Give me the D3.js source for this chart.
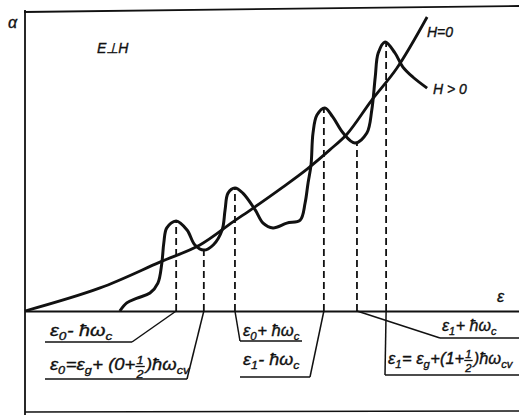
<!DOCTYPE html>
<html>
<head>
<meta charset="utf-8">
<script src="https://cdn.jsdelivr.net/npm/d3@7"></script>
<style>
  body { margin: 0; background: #fff; }
  text { font-family: "Liberation Sans", Arial, sans-serif; font-style: italic; fill: #111;
         stroke: #111; stroke-width: 0.35; }
</style>
</head>
<body>
<div id="chart"></div>
<script>
// absorption without field (H=0), photon energy vs alpha, arbitrary units
const energyH0 = [0, 15.2, 27.3, 35.4, 42.1, 46.2, 52.2, 57.1, 61.7, 65.2, 70.2, 75.3, 81.4];
const alphaH0  = [0, 7.7, 16.3, 22, 29.7, 34.3, 41.3, 47.3, 53.7, 59, 70.3, 81, 98];

// absorption in field (H>0), oscillating
const energyH = [19.2, 20.6, 22.7, 25.3, 26.9, 27.7, 28.1, 28.7, 30.6, 32.8, 34.4, 36.2, 38.1, 39.9,
  40.5, 41.1, 42.5, 44.1, 46.6, 48.2, 50.2, 53.0, 55.7, 56.7, 57.3, 57.9, 58.3, 59.1, 60.7, 62.3,
  64.4, 66.8, 69.2, 70.2, 70.9, 71.5, 72.9, 74.9, 76.5, 78.5, 81.4];
const alphaH = [0, 2.7, 4.3, 6, 9.3, 16, 22.7, 27.7, 30, 27, 22, 20.3, 22, 27,
  33.7, 39.3, 41, 39.3, 33.7, 29.3, 27.7, 29.3, 30.3, 36, 42.7, 48.7, 59.3, 65.3, 67.7, 64.7,
  59.3, 56, 59.3, 67, 78, 86, 89.7, 86, 81.3, 78, 74.3];

// marked levels (dashed lines): energy and height where they meet the curve
const levelEnergy = [30.6, 36.2, 42.5, 60.5, 67.2, 73.1];
const levelAlpha  = [30, 20.3, 41, 67.7, 56, 89.7];

// level labels, as segments: plain text, subscript, fraction
const levelLabels = [
  [["ε"], ["0", "sub"], [" - ħω"], ["c", "sub"]],
  [["ε"], ["0", "sub"], ["=ε"], ["g", "sub"], [" + (0+"], ["1", "frac", "2"], [")ħω"], ["cv", "sub"]],
  [["ε"], ["0", "sub"], [" + ħω"], ["c", "sub"]],
  [["ε"], ["1", "sub"], [" - ħω"], ["c", "sub"]],
  [["ε"], ["1", "sub"], [" + ħω"], ["c", "sub"]],
  [["ε"], ["1", "sub"], [" = ε"], ["g", "sub"], ["+(1+"], ["1", "frac", "2"], [")ħω"], ["cv", "sub"]]
];

const width = 519, height = 415;
const margin = { left: 25, right: 0, top: 11, bottom: 104 };

const svg = d3.select("#chart").append("svg")
  .attr("width", width)
  .attr("height", height);

const x = d3.scaleLinear().domain([0, 100]).range([margin.left, width - margin.right]);
const y = d3.scaleLinear().domain([0, 100]).range([height - margin.bottom, margin.top]);

// frame
svg.append("line").attr("x1", 25).attr("y1", 10).attr("x2", 25).attr("y2", height)
  .attr("stroke", "#111").attr("stroke-width", 1.8);
svg.append("line").attr("x1", 24).attr("y1", 12).attr("x2", width).attr("y2", 6)
  .attr("stroke", "#111").attr("stroke-width", 1.8);
svg.append("line").attr("x1", 25).attr("y1", 412).attr("x2", width).attr("y2", 411)
  .attr("stroke", "#111").attr("stroke-width", 1.6);

// energy axis
svg.append("g")
  .attr("transform", `translate(0,${y(0)})`)
  .call(d3.axisBottom(x).tickValues([]).tickSizeOuter(0))
  .select(".domain").attr("stroke", "#111").attr("stroke-width", 1.8);

// dashed level lines
svg.selectAll(".level")
  .data(levelEnergy)
  .enter().append("line")
  .attr("class", "level")
  .attr("x1", d => x(d)).attr("x2", d => x(d))
  .attr("y1", y(0)).attr("y2", (d, i) => y(levelAlpha[i]))
  .attr("stroke", "#111").attr("stroke-width", 1.8)
  .attr("stroke-dasharray", "7,4");

const line = d3.line()
  .x(d => x(d[0]))
  .y(d => y(d[1]))
  .curve(d3.curveCatmullRom.alpha(0.5));

svg.append("path")
  .datum(d3.zip(energyH0, alphaH0))
  .attr("fill", "none").attr("stroke", "#111").attr("stroke-width", 2.8)
  .attr("d", line);

svg.append("path")
  .datum(d3.zip(energyH, alphaH))
  .attr("fill", "none").attr("stroke", "#111").attr("stroke-width", 3)
  .attr("stroke-linejoin", "round")
  .attr("d", line);

// text labels
svg.append("text").attr("x", 8).attr("y", 28).attr("font-size", 16).text("α");
svg.append("text").attr("x", 97).attr("y", 53).attr("font-size", 14).text("E⊥H");
svg.append("text").attr("x", 497).attr("y", 302).attr("font-size", 16).text("ε");
svg.append("text").attr("x", 427).attr("y", 37).attr("font-size", 14).text("H=0");
svg.append("text").attr("x", 433).attr("y", 94).attr("font-size", 14).text("H > 0");

// label placement: text start/end, baseline, underline y and ends, which end carries the leader
const labelLayout = [
  { tx: 50,  te: 113, ty: 336, uy: 342, u0: 45,  u1: 132, from: "right" },
  { tx: 50,  te: 190, ty: 370, uy: 379, u0: 45,  u1: 187, from: "right" },
  { tx: 243, te: 300, ty: 336, uy: 341, u0: 240, u1: 302, from: "left" },
  { tx: 243, te: 300, ty: 365, uy: 377, u0: 240, u1: 310, from: "right" },
  { tx: 442, te: 497, ty: 331, uy: 338, u0: 440, u1: 519, from: "left" },
  { tx: 388, te: 513, ty: 364, uy: 375, u0: 385, u1: 519, from: "left" }
];

function drawLabel(g, segs, y0) {
  let cx = 0;
  segs.forEach(s => {
    if (s[1] === "sub") {
      const t = g.append("text").attr("x", cx).attr("y", y0 + 4).attr("font-size", 11).text(s[0]);
      cx += t.node().getComputedTextLength() + 0.5;
    } else if (s[1] === "frac") {
      const top = g.append("text").attr("x", cx + 1).attr("y", y0 - 6).attr("font-size", 11).text(s[0]);
      const bot = g.append("text").attr("x", cx + 1).attr("y", y0 + 8).attr("font-size", 11).text(s[2]);
      const w = Math.max(top.node().getComputedTextLength(), bot.node().getComputedTextLength()) + 2;
      g.append("line").attr("x1", cx).attr("x2", cx + w).attr("y1", y0 - 3.5).attr("y2", y0 - 3.5)
        .attr("stroke", "#111").attr("stroke-width", 1.3);
      cx += w + 1;
    } else {
      const t = g.append("text").attr("x", cx).attr("y", y0).attr("font-size", 16).text(s[0]);
      cx += t.node().getComputedTextLength();
    }
  });
  return cx;
}

levelLabels.forEach((segs, i) => {
  const L = labelLayout[i];
  const g = svg.append("g");
  const tg = g.append("g");
  const w = drawLabel(tg, segs, 0);
  // stretch or squeeze each label to the span it has in the figure
  tg.attr("transform", `translate(${L.tx},${L.ty}) scale(${(L.te - L.tx) / w},1)`);
  const cornerX = L.from === "right" ? L.u1 : L.u0;
  g.append("line")
    .attr("x1", L.u0).attr("y1", L.uy).attr("x2", L.u1).attr("y2", L.uy)
    .attr("stroke", "#111").attr("stroke-width", 1.5);
  g.append("line")
    .attr("x1", cornerX).attr("y1", L.uy)
    .attr("x2", x(levelEnergy[i])).attr("y2", y(0))
    .attr("stroke", "#111").attr("stroke-width", 1.5);
});
</script>
</body>
</html>
